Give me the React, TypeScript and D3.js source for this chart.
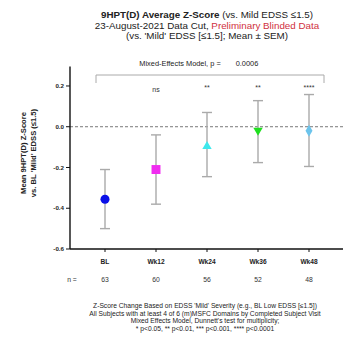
import React from "react";
import * as d3 from "d3";

const categories = ["BL", "Wk12", "Wk24", "Wk36", "Wk48"];
const means = [-0.356, -0.21, -0.096, -0.018, -0.02];
const upper = [-0.21, -0.04, 0.07, 0.128, 0.158];
const lower = [-0.5, -0.38, -0.245, -0.176, -0.195];
const nValues = ["63", "60", "56", "52", "48"];
const sigLabels = ["", "ns", "**", "**", "****"];
const yTicks = [0.2, 0.0, -0.2, -0.4, -0.6];
const colors = ["#0a10e8", "#f02cf0", "#3ee8ec", "#1fe01f", "#6cc4ec"];
const shapes = [d3.symbolCircle, d3.symbolSquare, d3.symbolTriangle, d3.symbolTriangle, d3.symbolDiamond];

const font = "'Liberation Sans', Arial, sans-serif";

const App = () => {
  const x = d3.scalePoint<string>().domain(categories).range([105, 309]);
  const y = d3.scaleLinear().domain([-0.6, 0.3]).range([249, 65.6]);
  const sym = d3.symbol();

  return (
    <svg width={363} height={350} style={{ position: "absolute", left: 0, top: 0, background: "#fff" }} fontFamily={font}>
      {/* title */}
      <text x={207} y={18} fontSize={9.8} textAnchor="middle" fill="#222">
        <tspan fontWeight="bold">9HPT(D) Average Z-Score</tspan> (vs. Mild EDSS ≤1.5)
      </text>
      <text x={207} y={28.5} fontSize={9.8} textAnchor="middle" fill="#222">
        23-August-2021 Data Cut, <tspan fill="#d03040">Preliminary Blinded Data</tspan>
      </text>
      <text x={207} y={39} fontSize={9.8} textAnchor="middle" fill="#222">
        (vs. 'Mild' EDSS [≤1.5]; Mean ± SEM)
      </text>

      {/* y axis label */}
      <g transform="translate(26,153) rotate(-90)" fontSize={7.6} fontWeight="bold" textAnchor="middle" fill="#222">
        <text x={0} y={0}>Mean 9HPT(D) Z-Score</text>
        <text x={0} y={10}>vs. BL 'Mild' EDSS (≤1.5)</text>
      </g>

      {/* model bracket */}
      <text x={180} y={66} fontSize={7.4} textAnchor="middle" fill="#222">Mixed-Effects Model, p =</text>
      <text x={247} y={66} fontSize={7.4} textAnchor="middle" fill="#222">0.0006</text>
      <path d="M96,83 V75 H324 V83" fill="none" stroke="#aaa" strokeWidth={1} />

      {/* zero reference */}
      <line x1={70} x2={343} y1={y(0)} y2={y(0)} stroke="#555" strokeWidth={0.8} strokeDasharray="3,2" />

      {/* axes */}
      <line x1={70} x2={70} y1={y(0.3) + 1} y2={y(-0.6)} stroke="#111" strokeWidth={1.4} />
      <line x1={70} x2={343} y1={y(-0.6)} y2={y(-0.6)} stroke="#111" strokeWidth={1.4} />
      {yTicks.map((t) => (
        <g key={t}>
          <line x1={66} x2={70} y1={y(t)} y2={y(t)} stroke="#111" strokeWidth={1} />
          <text x={64} y={y(t) + 2.2} fontSize={6.2} fontWeight="bold" textAnchor="end" fill="#222">
            {t.toFixed(1)}
          </text>
        </g>
      ))}
      {categories.map((c, i) => (
        <g key={c}>
          <line x1={x(c)} x2={x(c)} y1={y(-0.6)} y2={y(-0.6) + 3} stroke="#111" strokeWidth={1} />
          <text x={x(c)} y={264} fontSize={6.6} fontWeight="bold" textAnchor="middle" fill="#222">{c}</text>
          <text x={x(c)} y={281.5} fontSize={6.8} textAnchor="middle" fill="#333">{nValues[i]}</text>
        </g>
      ))}
      <text x={72} y={281.5} fontSize={6.8} textAnchor="middle" fill="#333">n =</text>

      {/* error bars and markers */}
      {categories.map((c, i) => {
        const cx = x(c)!;
        const rot = i === 3 ? 180 : 0;
        const size = i === 0 ? 64 : i === 1 ? 80 : i === 4 ? 42 : 38;
        return (
          <g key={c}>
            <line x1={cx} x2={cx} y1={y(upper[i])} y2={y(lower[i])} stroke="#aaa" strokeWidth={1.4} />
            <line x1={cx - 5} x2={cx + 5} y1={y(upper[i])} y2={y(upper[i])} stroke="#aaa" strokeWidth={1.4} />
            <line x1={cx - 5} x2={cx + 5} y1={y(lower[i])} y2={y(lower[i])} stroke="#aaa" strokeWidth={1.4} />
            <path
              d={sym.type(shapes[i]).size(size)()!}
              transform={`translate(${cx},${y(means[i])}) rotate(${rot})`}
              fill={colors[i]}
            />
            {sigLabels[i] && (
              <text x={cx} y={sigLabels[i] === "ns" ? 92 : 90} fontSize={7} textAnchor="middle" fill="#333">
                {sigLabels[i]}
              </text>
            )}
          </g>
        );
      })}

      {/* footnote */}
      <g fontSize={6.7} textAnchor="middle" fill="#222">
        <text x={205} y={308}>Z-Score Change Based on EDSS 'Mild' Severity (e.g., BL Low EDSS [≤1.5])</text>
        <text x={205} y={315.5}>All Subjects with at least 4 of 6 (m)MSFC Domains by Completed Subject Visit</text>
        <text x={205} y={323}>Mixed Effects Model, Dunnett's test for multiplicity;</text>
        <text x={205} y={330.5}>* p&lt;0.05, ** p&lt;0.01, *** p&lt;0.001, **** p&lt;0.0001</text>
      </g>
    </svg>
  );
};

export default App;
